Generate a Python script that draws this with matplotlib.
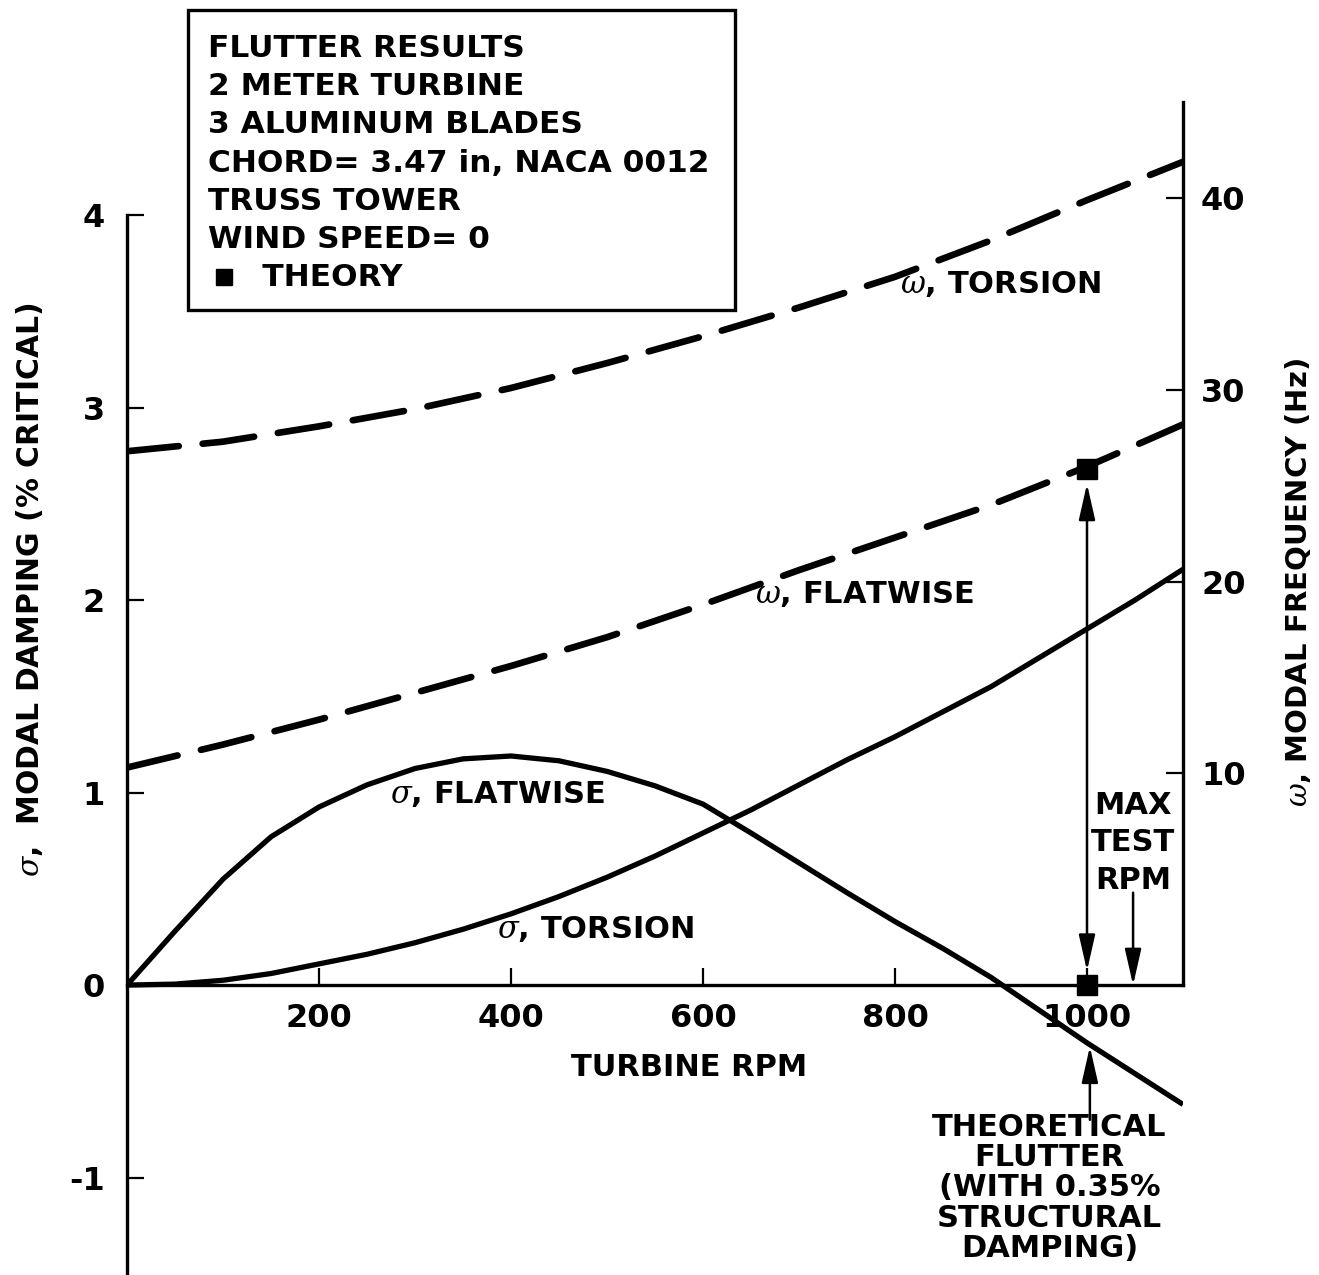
import numpy as np
import matplotlib
matplotlib.use('Agg')
import matplotlib.pyplot as plt
from matplotlib.patches import Rectangle
from matplotlib.lines import Line2D

plt.rcParams['font.family'] = ['DejaVu Sans']
plt.rcParams['font.weight'] = 'bold'
plt.rcParams['mathtext.fontset'] = 'custom'
plt.rcParams['mathtext.it'] = 'DejaVu Serif:style=italic:weight=normal'
plt.rcParams['mathtext.rm'] = 'DejaVu Sans:weight=bold'

# values
rpm_sig_flat = [0, 50, 100, 150, 200, 250, 300, 350, 400, 450, 500, 550, 600, 650,
                700, 750, 800, 850, 900, 950, 1000, 1050, 1100]
sig_flat = [0, 0.28, 0.55, 0.77, 0.925, 1.04, 1.125, 1.175, 1.19, 1.165, 1.11, 1.035,
            0.94, 0.79, 0.635, 0.48, 0.33, 0.19, 0.04, -0.13, -0.30, -0.46, -0.62]

rpm_sig_tor = [0, 50, 100, 150, 200, 250, 300, 350, 400, 450, 500, 550, 600, 650,
               700, 750, 800, 850, 900, 950, 1000, 1050, 1100]
sig_tor = [0, 0.005, 0.025, 0.06, 0.11, 0.16, 0.22, 0.29, 0.37, 0.46, 0.56, 0.67,
           0.79, 0.91, 1.04, 1.17, 1.29, 1.42, 1.55, 1.70, 1.85, 2.00, 2.16]

rpm_om_flat = [0, 100, 200, 300, 400, 500, 600, 700, 800, 900, 1000, 1100]
om_flat = [10.3, 11.5, 12.8, 14.2, 15.6, 17.1, 18.8, 20.6, 22.3, 24.0, 26.0, 28.2]

rpm_om_tor = [0, 100, 200, 300, 400, 500, 600, 700, 800, 900, 1000, 1100]
om_tor = [26.8, 27.3, 28.1, 29.0, 30.1, 31.4, 32.8, 34.3, 35.9, 37.8, 39.9, 41.9]

theory_rpm = 1000
theory_hz = 25.9
theory_sig = 0.0
max_test_rpm = 1048
flutter_rpm = 1003

info_lines = ['FLUTTER RESULTS', '2 METER TURBINE', '3 ALUMINUM BLADES',
              'CHORD= 3.47 in, NACA 0012', 'TRUSS TOWER', 'WIND SPEED= 0',
              '     THEORY']

fig = plt.figure(figsize=(13.19, 12.75), dpi=100)
ax = fig.add_axes([127 / 1319, 0, 1056 / 1319, 1])
ax2 = ax.twinx()

ax.set_xlim(0, 1100)
ax.set_ylim(-1.506, 5.117)
ax2.set_ylim(-16.17, 50.34)

for a in (ax, ax2):
    a.spines['top'].set_visible(False)
    a.patch.set_visible(False)
ax.spines['right'].set_visible(False)
ax2.spines['left'].set_visible(False)
ax2.spines['bottom'].set_visible(False)
ax.spines['bottom'].set_position(('data', 0))
ax.spines['bottom'].set_bounds(0, 1100)
ax.spines['left'].set_bounds(-1.506, 4)
ax2.spines['right'].set_bounds(-1.04, 45)
for s in ['left', 'bottom']:
    ax.spines[s].set_linewidth(2.4)
ax2.spines['right'].set_linewidth(2.4)

ax.set_xticks([200, 400, 600, 800, 1000])
ax.set_yticks([-1, 0, 1, 2, 3, 4])
ax.set_yticklabels(['-1', '0', '1', '2', '3', '4'])
ax2.set_yticks([10, 20, 30, 40])
ax.tick_params(axis='both', direction='in', length=12, width=1.6, labelsize=23)
ax.tick_params(axis='x', pad=13)
ax.tick_params(axis='y', pad=16)
ax2.tick_params(axis='y', direction='in', length=12, width=1.6, labelsize=23, pad=13)
for lab in ax.get_xticklabels() + ax.get_yticklabels() + ax2.get_yticklabels():
    lab.set_fontweight('bold')

# curves
ax.plot(rpm_sig_flat, sig_flat, color='black', lw=3.8, solid_capstyle='butt')
ax.plot(rpm_sig_tor, sig_tor, color='black', lw=3.8, solid_capstyle='butt')
ax2.plot(rpm_om_flat, om_flat, color='black', lw=4.8, dashes=(7.8, 3.6), dash_capstyle='round')
ax2.plot(rpm_om_tor, om_tor, color='black', lw=4.8, dashes=(7.8, 3.6), dash_capstyle='round')

ax2.plot([theory_rpm], [theory_hz], 's', color='black', ms=15, zorder=5)
ax.plot([theory_rpm], [theory_sig], 's', color='black', ms=15, zorder=5, clip_on=False)

# arrows
head = 'head_length=2.2,head_width=0.5'
ax2.annotate('', xy=(theory_rpm, 25.1), xytext=(theory_rpm, -0.3),
             arrowprops=dict(arrowstyle='<|-|>,' + head, color='black', lw=1.8,
                             shrinkA=0, shrinkB=0))
ax.annotate('', xy=(max_test_rpm, 0.0), xytext=(max_test_rpm, 0.48),
            arrowprops=dict(arrowstyle='-|>,' + head, color='black', lw=1.8,
                            shrinkA=0, shrinkB=0))
ax.annotate('', xy=(flutter_rpm, -0.32), xytext=(flutter_rpm, -0.70),
            arrowprops=dict(arrowstyle='-|>,' + head, color='black', lw=1.8,
                            shrinkA=0, shrinkB=0))

# curve labels
ax.text(805, 3.64, r'$\omega$, TORSION', fontsize=22, ha='left', va='center')
ax.text(654, 2.03, r'$\omega$, FLATWISE', fontsize=22, ha='left', va='center')
ax.text(274, 0.99, r'$\sigma$, FLATWISE', fontsize=22, ha='left', va='center')
ax.text(385, 0.29, r'$\sigma$, TORSION', fontsize=22, ha='left', va='center')
ax.text(586, -0.43, 'TURBINE RPM', fontsize=22, ha='center', va='center')
ax.text(max_test_rpm, 1.01, 'MAX\nTEST\nRPM', fontsize=22, ha='center', va='top', linespacing=1.38)
ax.text(961, -0.665, 'THEORETICAL\nFLUTTER\n(WITH 0.35%\nSTRUCTURAL\nDAMPING)',
        fontsize=22, ha='center', va='top', linespacing=1.05)

# axis titles
fig.text(30 / 1319, 1 - 590 / 1275, r'$\sigma$,  MODAL DAMPING (% CRITICAL)',
         rotation=90, fontsize=21.5, ha='center', va='center')
fig.text(1298 / 1319, 1 - 582 / 1275, r'$\omega$, MODAL FREQUENCY (Hz)',
         rotation=90, fontsize=21, ha='center', va='center')

# info box
fig.patches.append(Rectangle((188 / 1319, 1 - 310 / 1275), 547 / 1319, 300 / 1275,
                             transform=fig.transFigure, fill=False, lw=2.4, ec='black'))
fig.text(208 / 1319, 1 - 34 / 1275, '\n'.join(info_lines), fontsize=22.5,
         ha='left', va='top', linespacing=1.40)
fig.add_artist(Line2D([224 / 1319], [1 - 277 / 1275], marker='s', ms=12,
                      color='black', transform=fig.transFigure))

fig.savefig('out.png', dpi=100)
